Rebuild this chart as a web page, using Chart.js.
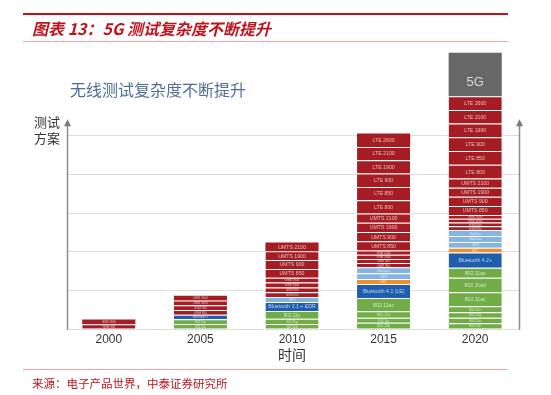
<!DOCTYPE html>
<html>
<head>
<meta charset="utf-8">
<script src="https://cdn.jsdelivr.net/npm/chart.js@4.4.1/dist/chart.umd.min.js"></script>
<style>
  body { margin: 0; background: #fff; }
  #wrap { position: relative; width: 551px; height: 395px; overflow: hidden; }
  #chart { position: absolute; left: 0; top: 0; }
  .line { position: absolute; left: 23px; width: 485px; }
  .top-line { top: 13px; height: 2px; background: #c0141c; }
  .thin-line { height: 1px; background: #e6a3a3; }
  .title { position: absolute; left: 32px; top: 18px; font: italic bold 16px "Noto Sans CJK SC", sans-serif; line-height: 20px; color: #c0141c; }
  .subtitle { position: absolute; left: 70px; top: 79px; font: 16px "Noto Sans CJK SC", sans-serif; line-height: 20px; color: #4e6f98; }
  .ylab { position: absolute; left: 34px; top: 114px; font: 13px "Noto Sans CJK SC", sans-serif; line-height: 16px; color: #333; }
  .source { position: absolute; left: 32px; top: 376px; font: 11.5px "Noto Sans CJK SC", sans-serif; line-height: 14px; color: #c0141c; }
</style>
</head>
<body>
<div id="wrap">
  <canvas id="chart" width="551" height="395"></canvas>
  <div class="line top-line"></div>
  <div class="title">图表 13：5G 测试复杂度不断提升</div>
  <div class="line thin-line" style="top:41px"></div>
  <div class="subtitle">无线测试复杂度不断提升</div>
  <div class="ylab">测试<br>方案</div>
  <div class="line thin-line" style="top:369px"></div>
  <div class="source">来源：电子产品世界，中泰证券研究所</div>
</div>
<script>
// categories
const years = ['2000', '2005', '2010', '2015', '2020'];

// test items per year, listed bottom -> top, with segment heights
const names2000 = ['GSM 900', 'GSM 1800'];
const sizes2000 = [4.6, 4.6];

const names2005 = ['802.11b', '802.11g', 'Bluetooth 2', 'GSM 850', 'GSM 900', 'GSM 1800', 'GSM 1900'];
const sizes2005 = [4.7, 4.7, 4.7, 4.7, 4.7, 4.7, 4.7];

const names2010 = ['802.11b', '802.11g', '802.11n', 'Bluetooth 2.1 + EDR', 'GPS',
    'GSM 850', 'GSM 900', 'GSM 1800', 'GSM 1900',
    'UMTS 850', 'UMTS 900', 'UMTS 1900', 'UMTS 2100'];
const sizes2010 = [4.7, 5.3, 7.7, 9, 5, 4.8, 4.8, 4.8, 4.8, 8.8, 8.8, 8.8, 8.8];

const names2015 = ['802.11b', '802.11g', '802.11n', '802.11ac', 'Bluetooth 4.1 (LE)', 'NFC', 'GPS', 'Glonass',
    'GSM 850', 'GSM 900', 'GSM 1800', 'GSM 1900',
    'UMTS 850', 'UMTS 900', 'UMTS 1900', 'UMTS 2100',
    'LTE 800', 'LTE 850', 'LTE 900', 'LTE 1900', 'LTE 2100', 'LTE 2600'];
const sizes2015 = [6, 5, 6.5, 13.2, 14, 5, 5.6, 6, 4.2, 4.2, 4.2, 4.2,
    9.2, 9.2, 9.2, 9.2, 13.3, 13.3, 13.3, 13.3, 13.3, 13.3];

const names2020 = ['802.11b', '802.11a', '802.11g', '802.11n', '802.11ac', '802.11ad', '802.11ax', 'Bluetooth 4.2+',
    'NFC', 'GPS', 'Glonass', 'Galileo',
    'GSM 850', 'GSM 900', 'GSM 1800', 'GSM 1900',
    'UMTS 850', 'UMTS 900', 'UMTS 1900', 'UMTS 2100',
    'LTE 800', 'LTE 850', 'LTE 900', 'LTE 1900', 'LTE 2100', 'LTE 2600', '5G'];
const sizes2020 = [5.5, 5.5, 5.5, 6, 14, 14.5, 10, 15, 4.7, 5.9, 5.9, 5.9,
    3.75, 3.75, 3.75, 3.75, 9.1, 9.1, 9.1, 9.1,
    13.7, 13.7, 13.7, 13.7, 13.7, 13.7, 43.3];

// horizontal guide lines
const gridValues = [0, 38.6, 77.2, 115.8, 154.4, 193];

const columns = [
    [names2000, sizes2000],
    [names2005, sizes2005],
    [names2010, sizes2010],
    [names2015, sizes2015],
    [names2020, sizes2020]
];

function colorOf(name) {
    if (!name) return 'transparent';
    if (name === '5G') return '#676767';
    if (/^(LTE|UMTS|GSM)/.test(name)) return '#a51c22';
    if (name.startsWith('Bluetooth')) return '#1f5ead';
    if (/^(GPS|Glonass|Galileo)/.test(name)) return '#84b4df';
    if (name === 'NFC') return '#ee9030';
    return '#70ad46';
}

// one dataset per stacking layer
const depth = Math.max(...columns.map(c => c[0].length));
const datasets = [];
for (let i = 0; i < depth; i++) {
    const names = columns.map(c => c[0][i] || null);
    datasets.push({
        data: columns.map(c => c[1][i] ?? null),
        names: names,
        backgroundColor: names.map(colorOf),
        borderColor: 'rgba(255,255,255,0.75)',
        borderSkipped: false,
        borderWidth: (ctx) => {
            const col = columns[ctx.dataIndex];
            const isTop = col && i === col[0].length - 1;
            return { top: isTop ? 0 : 1, bottom: 0, left: 0, right: 0 };
        },
        barPercentage: 0.58,
        categoryPercentage: 1
    });
}

// arrows, guide lines and the item names inside each segment
const decorations = {
    id: 'decorations',
    beforeDatasetsDraw(chart) {
        const { ctx, chartArea, scales } = chart;
        const left = chartArea.left + 4;
        const right = chartArea.right - 2;
        ctx.save();
        ctx.strokeStyle = '#dedede';
        ctx.lineWidth = 1;
        gridValues.forEach(v => {
            const y = Math.round(scales.y.getPixelForValue(v)) + 0.5;
            ctx.beginPath();
            ctx.moveTo(left, y);
            ctx.lineTo(right, y);
            ctx.stroke();
        });
        ctx.restore();
    },
    afterDatasetsDraw(chart) {
        const { ctx, chartArea, scales } = chart;
        ctx.save();
        ctx.textAlign = 'center';
        ctx.textBaseline = 'middle';
        chart.data.datasets.forEach((ds, i) => {
            const meta = chart.getDatasetMeta(i);
            meta.data.forEach((bar, j) => {
                const name = ds.names[j];
                if (!name) return;
                const h = Math.abs(bar.base - bar.y);
                let y = (bar.y + bar.base) / 2 + 0.5;
                if (h > 30) {
                    ctx.font = '13px "Liberation Sans", Arial, sans-serif';
                    ctx.fillStyle = '#d8d8d8';
                    y += h * 0.18;
                } else {
                    const size = Math.max(3, Math.min(5.2, h * 0.6));
                    ctx.font = size + 'px "Liberation Sans", Arial, sans-serif';
                    ctx.fillStyle = 'rgba(255,255,255,0.7)';
                }
                ctx.fillText(name, bar.x, y);
            });
        });

        // up arrows on both sides
        const base = scales.y.getPixelForValue(0) + 1;
        const tip = scales.y.getPixelForValue(gridValues[gridValues.length - 1]) - 16;
        [chartArea.left + 4, chartArea.right - 2].forEach(x => {
            x = Math.round(x) + 0.5;
            ctx.strokeStyle = '#8c8c8c';
            ctx.fillStyle = '#7a7a7a';
            ctx.lineWidth = 1.5;
            ctx.beginPath();
            ctx.moveTo(x, base);
            ctx.lineTo(x, tip + 5);
            ctx.stroke();
            ctx.beginPath();
            ctx.moveTo(x, tip);
            ctx.lineTo(x - 3.5, tip + 7);
            ctx.lineTo(x + 3.5, tip + 7);
            ctx.closePath();
            ctx.fill();
        });
        ctx.restore();
    }
};

new Chart(document.getElementById('chart'), {
    type: 'bar',
    data: { labels: years, datasets: datasets },
    options: {
        responsive: false,
        animation: false,
        devicePixelRatio: 1,
        layout: { padding: { left: 63, right: 30, top: 48, bottom: 32 } },
        plugins: {
            legend: { display: false },
            tooltip: { enabled: false }
        },
        scales: {
            x: {
                stacked: true,
                grid: { display: false, drawTicks: false },
                border: { display: false },
                ticks: {
                    padding: 4,
                    color: '#333',
                    font: { size: 12, family: '"Liberation Sans", Arial, sans-serif' }
                },
                title: {
                    display: true,
                    text: '时间',
                    color: '#333',
                    padding: { top: -5, bottom: 0 },
                    font: { size: 14, family: '"Noto Sans CJK SC", sans-serif' }
                }
            },
            y: {
                stacked: true,
                display: false,
                min: 0,
                max: 280
            }
        }
    },
    plugins: [decorations]
});
</script>
</body>
</html>
